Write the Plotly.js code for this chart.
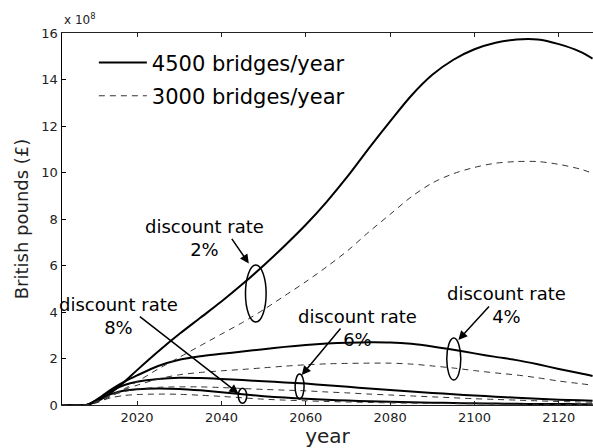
<!DOCTYPE html>
<html>
<head>
<meta charset="utf-8">
<script src="https://cdn.plot.ly/plotly-3.0.1.min.js"></script>
<style>html,body{margin:0;padding:0;background:#fff;}#chart{width:593px;height:448px;}</style>
</head>
<body>
<div id="chart"></div>
<script>
// Years sampled (x values)
const years = [2002, 2008, 2011, 2014, 2017, 2020, 2025, 2030, 2035, 2040, 2045, 2050, 2055, 2060, 2065, 2070, 2075, 2080, 2085, 2090, 2095, 2100, 2105, 2110, 2115, 2120, 2125, 2128];

// Values in units of 1e8 British pounds
// 4500 bridges/year (solid), by discount rate
const solid2 = [0, 0, 0.2, 0.55, 1.0, 1.5, 2.3, 3.05, 3.75, 4.45, 5.2, 6.0, 6.85, 7.75, 8.75, 9.85, 11.05, 12.2, 13.3, 14.2, 14.85, 15.3, 15.58, 15.72, 15.72, 15.52, 15.2, 14.9];
const solid4 = [0, 0, 0.3, 0.68, 1.0, 1.27, 1.68, 1.95, 2.1, 2.2, 2.3, 2.4, 2.5, 2.58, 2.64, 2.68, 2.7, 2.69, 2.63, 2.52, 2.38, 2.22, 2.07, 1.93, 1.75, 1.55, 1.37, 1.25];
const solid6 = [0, 0, 0.28, 0.62, 0.86, 1.0, 1.12, 1.17, 1.16, 1.12, 1.07, 1.02, 0.97, 0.92, 0.85, 0.78, 0.71, 0.65, 0.58, 0.52, 0.46, 0.41, 0.36, 0.31, 0.27, 0.23, 0.2, 0.18];
const solid8 = [0, 0, 0.25, 0.48, 0.62, 0.68, 0.71, 0.69, 0.63, 0.55, 0.46, 0.38, 0.32, 0.27, 0.23, 0.19, 0.16, 0.14, 0.12, 0.1, 0.085, 0.07, 0.06, 0.05, 0.045, 0.04, 0.035, 0.03];
// 3000 bridges/year (dashed), by discount rate
const dashed2 = [0, 0, 0.13, 0.4, 0.7, 1.0, 1.55, 2.05, 2.55, 3.05, 3.55, 4.1, 4.7, 5.3, 5.95, 6.65, 7.45, 8.2, 8.95, 9.55, 9.95, 10.22, 10.4, 10.47, 10.47, 10.35, 10.15, 9.97];
const dashed4 = [0, 0, 0.2, 0.45, 0.67, 0.85, 1.12, 1.3, 1.4, 1.47, 1.53, 1.6, 1.67, 1.73, 1.77, 1.79, 1.8, 1.8, 1.76, 1.68, 1.59, 1.48, 1.38, 1.29, 1.17, 1.03, 0.92, 0.85];
const dashed6 = [0, 0, 0.18, 0.42, 0.58, 0.68, 0.76, 0.78, 0.78, 0.75, 0.71, 0.67, 0.64, 0.61, 0.56, 0.52, 0.47, 0.43, 0.39, 0.35, 0.31, 0.27, 0.24, 0.21, 0.18, 0.15, 0.13, 0.12];
const dashed8 = [0, 0, 0.16, 0.32, 0.41, 0.45, 0.47, 0.46, 0.42, 0.37, 0.31, 0.25, 0.21, 0.18, 0.15, 0.13, 0.11, 0.09, 0.08, 0.07, 0.06, 0.05, 0.04, 0.03, 0.03, 0.02, 0.02, 0.02];

const seriesNames = ["4500 bridges/year", "3000 bridges/year"];
const xTicks = [2020, 2040, 2060, 2080, 2100, 2120];
const yTicks = [0, 2, 4, 6, 8, 10, 12, 14, 16];
const rateLabels = ["2%", "4%", "6%", "8%"];

const FONT = "DejaVu Sans, Arial, sans-serif";
const solidStyle = {color: "#000", width: 2, shape: "spline", smoothing: 0.8};
const dashStyle = {color: "#333", width: 1, dash: "6px,5px", shape: "spline", smoothing: 0.8};

const solids = [solid2, solid4, solid6, solid8];
const dashes = [dashed2, dashed4, dashed6, dashed8];
const traces = [];
solids.forEach((s, i) => traces.push({
  x: years, y: s, type: "scatter", mode: "lines", line: solidStyle,
  name: seriesNames[0], legendgroup: "s", showlegend: i === 0, hoverinfo: "skip"
}));
dashes.forEach((s, i) => traces.push({
  x: years, y: s, type: "scatter", mode: "lines", line: dashStyle,
  name: seriesNames[1], legendgroup: "d", showlegend: i === 0, hoverinfo: "skip"
}));

const ell = (x0, x1, y0, y1) => ({type: "circle", xref: "x", yref: "y", x0, x1, y0, y1, line: {color: "#000", width: 1.5}});
const shapes = [
  ell(2045.7, 2050.6, 3.57, 6.02),
  ell(2093.43, 2096.75, 1.075, 2.88),
  ell(2057.47, 2059.6, 0.26, 1.33),
  ell(2044.0, 2046.0, 0.07, 0.72)
];

const lbl = (x, y, r) => ({x, y, xref: "x", yref: "y", text: "discount rate<br>" + r, showarrow: false,
  font: {family: FONT, size: 18, color: "#000"}, xanchor: "center", yanchor: "middle", align: "center"});
const arr = (x, y, ax, ay) => ({x, y, xref: "x", yref: "y", ax, ay, text: "", showarrow: true,
  arrowhead: 2, arrowsize: 1.2, arrowwidth: 1.5, arrowcolor: "#000"});

const annotations = [
  lbl(2035.9, 7.18, rateLabels[0]),
  lbl(2107.7, 4.30, rateLabels[1]),
  lbl(2072.2, 3.31, rateLabels[2]),
  lbl(2015.5, 3.83, rateLabels[3]),
  arr(2046.49, 6.09, -18, -26),
  arr(2096.18, 2.80, 32, -35),
  arr(2059.05, 1.29, 40, -48),
  arr(2044.02, 0.50, -100, -78),
  {x: 0, y: 1.012, xref: "paper", yref: "paper", xanchor: "left", yanchor: "bottom", showarrow: false,
   text: "x 10<sup>8</sup>", font: {family: FONT, size: 12, color: "#222"}}
];

const layout = {
  width: 593, height: 448,
  margin: {l: 62, r: 0, t: 33, b: 43},
  paper_bgcolor: "#fff", plot_bgcolor: "#fff",
  font: {family: FONT, color: "#222"},
  showlegend: true,
  legend: {x: 0.06, y: 0.975, xanchor: "left", yanchor: "top", bgcolor: "rgba(0,0,0,0)",
           tracegroupgap: 3,
           font: {family: FONT, size: 21, color: "#000"}, itemwidth: 48},
  xaxis: {range: [2002.2, 2128.1], tickvals: xTicks, ticktext: xTicks.map(String), ticks: "inside", ticklen: 4,
          tickcolor: "#222", showline: true, linecolor: "#222", linewidth: 1.2, mirror: "ticks",
          showgrid: false, zeroline: false, tickfont: {family: FONT, size: 13, color: "#222"},
          title: {text: "year", font: {family: FONT, size: 20, color: "#222"}, standoff: 4}},
  yaxis: {range: [0, 16], tickvals: yTicks, ticktext: yTicks.map(String), ticks: "inside", ticklen: 4,
          tickcolor: "#000", showline: true, linecolor: "#000", linewidth: 1.5, mirror: false,
          showgrid: false, zeroline: false, tickfont: {family: FONT, size: 13, color: "#222"},
          title: {text: "British pounds (£)", font: {family: FONT, size: 18, color: "#222"}, standoff: 8}},
  shapes, annotations
};

Plotly.newPlot("chart", traces, layout, {displayModeBar: false, staticPlot: true}).then(gd => {
  // arrow-only annotations carry no text; drop their empty text nodes
  gd.querySelectorAll("text.annotation-text").forEach(t => { if (!t.textContent.trim()) t.remove(); });
});
</script>
</body>
</html>
